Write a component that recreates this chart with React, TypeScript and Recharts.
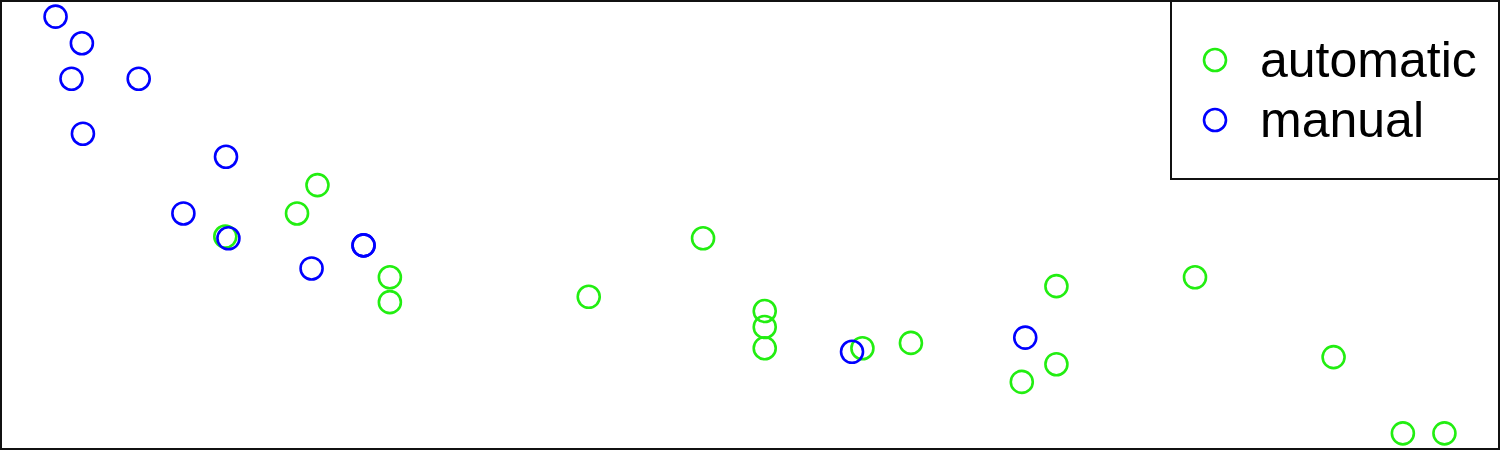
import React from "react"
import { ScatterChart, Scatter, XAxis, YAxis } from "recharts"

// mtcars: displacement vs mpg, split by transmission
const cars = [
    "Mazda RX4", "Mazda RX4 Wag", "Datsun 710", "Hornet 4 Drive", "Hornet Sportabout",
    "Valiant", "Duster 360", "Merc 240D", "Merc 230", "Merc 280", "Merc 280C",
    "Merc 450SE", "Merc 450SL", "Merc 450SLC", "Cadillac Fleetwood", "Lincoln Continental",
    "Chrysler Imperial", "Fiat 128", "Honda Civic", "Toyota Corolla", "Toyota Corona",
    "Dodge Challenger", "AMC Javelin", "Camaro Z28", "Pontiac Firebird", "Fiat X1-9",
    "Porsche 914-2", "Lotus Europa", "Ford Pantera L", "Ferrari Dino", "Maserati Bora", "Volvo 142E",
]
const disp = [
    160, 160, 108, 258, 360, 225, 360, 146.7, 140.8, 167.6, 167.6,
    275.8, 275.8, 275.8, 472, 460, 440, 78.7, 75.7, 71.1, 120.1,
    318, 304, 350, 400, 79, 120.3, 95.1, 351, 145, 301, 121,
]
const mpg = [
    21.0, 21.0, 22.8, 21.4, 18.7, 18.1, 14.3, 24.4, 22.8, 19.2, 17.8,
    16.4, 17.3, 15.2, 10.4, 10.4, 14.7, 32.4, 30.4, 33.9, 21.5,
    15.5, 15.2, 13.3, 19.2, 27.3, 26.0, 30.4, 15.8, 19.7, 15.0, 21.4,
]
const am = [
    1, 1, 1, 0, 0, 0, 0, 0, 0, 0, 0,
    0, 0, 0, 0, 0, 0, 1, 1, 1, 0,
    0, 0, 0, 0, 1, 1, 1, 1, 1, 1, 1,
]
const groups = ["automatic", "manual"]
const colors = ["#22ee11", "#0000ff"]

const rows = cars.map((name, i) => ({ name, disp: disp[i], mpg: mpg[i], am: am[i] }))

// R-style 4% padding on both axes
const pad = (lo: number, hi: number) => {
    const d = (hi - lo) * 0.04
    return [lo - d, hi + d]
}
const xDomain = pad(Math.min(...disp), Math.max(...disp))
const yDomain = pad(Math.min(...mpg), Math.max(...mpg))

const ring = (color: string) => (props: any) => (
    <circle cx={props.cx} cy={props.cy} r={11} fill="none" stroke={color} strokeWidth={2.6} />
)

const LegendBox = () => (
    <svg width={330} height={180} style={{ display: "block", position: "absolute", left: 1170, top: 0 }}>
        <rect x={1} y={1} width={328} height={178} fill="#fff" stroke="#111" strokeWidth={2} />
        {groups.map((g, i) => (
            <g key={g}>
                <circle cx={45} cy={60 + i * 60} r={11} fill="none" stroke={colors[i]} strokeWidth={2.6} />
                <text
                    x={90}
                    y={60 + i * 60}
                    dominantBaseline="central"
                    fontSize={50}
                    fontFamily="Liberation Sans, Arial, sans-serif"
                    fill="#000"
                >
                    {g}
                </text>
            </g>
        ))}
    </svg>
)

export default function App() {
    return (
        <div style={{ position: "absolute", left: 0, top: 0, width: 1500, height: 450, background: "#fff" }}>
            <ScatterChart width={1500} height={450} margin={{ top: 0, right: 0, bottom: 0, left: 0 }}>
                <XAxis type="number" dataKey="disp" domain={xDomain} hide allowDataOverflow />
                <YAxis type="number" dataKey="mpg" domain={yDomain} hide allowDataOverflow />
                {groups.map((g, k) => (
                    <Scatter
                        key={g}
                        name={g}
                        data={rows.filter((r) => r.am === k)}
                        shape={ring(colors[k])}
                        isAnimationActive={false}
                    />
                ))}
            </ScatterChart>
            <LegendBox />
            <div
                style={{
                    position: "absolute", left: 0, top: 0, width: 1500, height: 450,
                    boxSizing: "border-box", border: "2px solid #111", pointerEvents: "none",
                }}
            />
        </div>
    )
}
